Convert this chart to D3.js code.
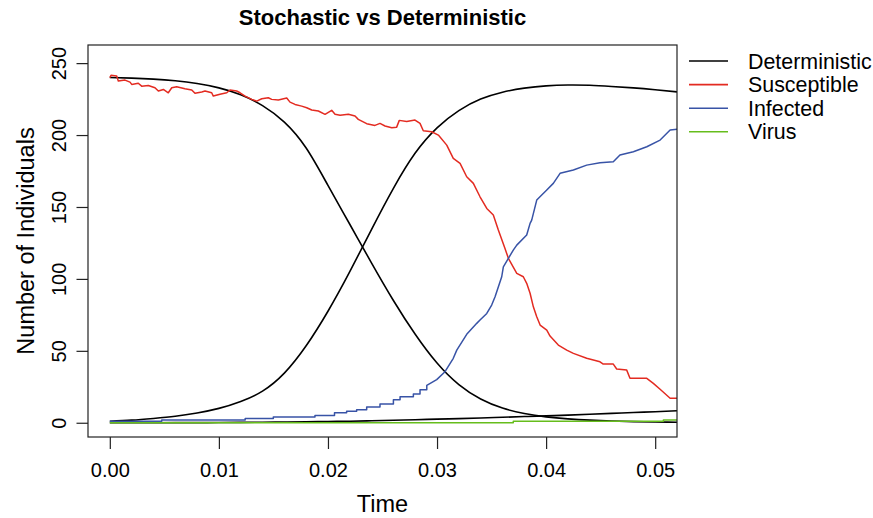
<!DOCTYPE html>
<html>
<head>
<meta charset="utf-8">
<script src="https://cdn.jsdelivr.net/npm/d3@7"></script>
<style>
  body { margin: 0; background: #fff; }
  text { font-family: "Liberation Sans", Arial, Helvetica, sans-serif; }
</style>
</head>
<body>
<div class="canvas"></div>
<script>
// deterministic solution, sampled every 0.002
const detTime = [0, 0.002, 0.004, 0.006, 0.008, 0.010, 0.012, 0.014, 0.016, 0.018, 0.020, 0.022, 0.024,
    0.026, 0.028, 0.030, 0.032, 0.034, 0.036, 0.038, 0.040, 0.042, 0.044, 0.046, 0.048, 0.050, 0.052];
const detS = [240, 239.6, 238.9, 237.7, 235.8, 232.8, 228, 220.5, 209, 191, 165, 138, 111,
    85, 61.5, 41.5, 26.5, 16.5, 10.2, 6.4, 4.1, 2.7, 1.8, 1.2, 0.8, 0.55, 0.4];
const detI = [1, 1.8, 3, 4.5, 6.8, 10, 14.8, 22, 34.5, 53.5, 77.5, 105, 134.5,
    163, 187.5, 205, 217, 225, 229.8, 232.6, 234.2, 234.8, 234.6, 233.8, 232.8, 231.5, 230];
const detV = [0, 0.02, 0.05, 0.08, 0.1, 0.15, 0.25, 0.35, 0.5, 0.7, 0.9, 1.1, 1.4,
    1.7, 2.1, 2.5, 2.9, 3.3, 3.8, 4.3, 4.8, 5.3, 5.9, 6.5, 7.1, 7.7, 8.4];

// stochastic run
const susTime = [0, 0.00011, 0.00063, 0.00078, 0.00139, 0.00185, 0.00201, 0.00261, 0.00292, 0.00353,
    0.00414, 0.00445, 0.00491, 0.00536, 0.00568, 0.00613, 0.00689, 0.00751, 0.00781, 0.00843,
    0.00873, 0.00934, 0.00949, 0.01010, 0.01072, 0.01102, 0.01163, 0.01194, 0.01240, 0.01301,
    0.01347, 0.01393, 0.01453, 0.01484, 0.01545, 0.01622, 0.01652, 0.01698, 0.01759, 0.01805,
    0.01851, 0.01912, 0.01973, 0.02034, 0.02065, 0.02111, 0.02187, 0.02248, 0.02278, 0.02355,
    0.02431, 0.02477, 0.02523, 0.02585, 0.02630, 0.02654, 0.02722, 0.02798, 0.02844, 0.02874,
    0.02951, 0.03012, 0.03089, 0.03149, 0.03211, 0.03272, 0.03333, 0.03394, 0.03456, 0.03516,
    0.03562, 0.03623, 0.03654, 0.03731, 0.03791, 0.03822, 0.03853, 0.03883, 0.03914, 0.03945,
    0.04006, 0.04036, 0.04112, 0.04189, 0.04250, 0.04372, 0.04494, 0.04524, 0.04616, 0.04647,
    0.04739, 0.04769, 0.04923, 0.04983, 0.05045, 0.05137, 0.05201];
const susValue = [240, 241.5, 241, 237.5, 238.2, 236.8, 235.2, 236, 234, 234.5,
    232.9, 230.6, 231.7, 229.4, 232.9, 233.6, 232.2, 231.3, 229, 229.9,
    230.6, 229.4, 227.1, 228.3, 229.4, 231.3, 230.6, 229.4, 227.1, 224.8,
    223.6, 225.2, 225.9, 224.8, 224.3, 225.7, 222.9, 221.3, 220.1, 219,
    217.4, 216.7, 214.4, 217.2, 214.4, 213.7, 214.4, 213.2, 210.9, 207.9,
    206.7, 208.1, 206.3, 205.1, 205.5, 210.2, 209.5, 210.4, 208.1, 203,
    202.3, 200, 193, 183.8, 180.3, 171, 166.4, 157.1, 149, 144.4,
    134, 121.2, 114.3, 103.9, 101.5, 96.9, 90, 80.6, 73.7, 67.9,
    64.4, 60.3, 54, 50.5, 48.2, 44.8, 42.4, 40.8, 40.8, 37.4,
    36.6, 30.9, 30.9, 27.4, 23.3, 17, 17];

const infTime = [0, 0.00476, 0.00476, 0.01241, 0.01241, 0.01499, 0.01499, 0.01881, 0.01881, 0.02060,
    0.02060, 0.02171, 0.02171, 0.02263, 0.02263, 0.02355, 0.02355, 0.02477, 0.02477, 0.02600,
    0.02600, 0.02661, 0.02661, 0.02783, 0.02783, 0.02844, 0.02844, 0.02906, 0.02906, 0.02997,
    0.03073, 0.03149, 0.03181, 0.03272, 0.03364, 0.03394, 0.03456, 0.03501, 0.03532, 0.03593,
    0.03608, 0.03654, 0.03699, 0.03731, 0.03822, 0.03853, 0.03868, 0.03914, 0.04006, 0.04066,
    0.04128, 0.04250, 0.04372, 0.04494, 0.04616, 0.04677, 0.04800, 0.04923, 0.05045, 0.05137, 0.05201];
const infValue = [1, 1, 2, 2, 3, 3, 4, 4, 5, 5,
    7, 7, 8, 8, 9, 9, 11, 11, 13, 13,
    16, 16, 18, 18, 20, 20, 23, 23, 26, 30,
    35.5, 44.8, 50.5, 61.5, 69.1, 71.4, 76, 81.8, 87.6, 101.5,
    108.4, 114.3, 120, 123.5, 130.5, 138.6, 140.9, 154.8, 161.8, 166.4,
    173.4, 175.7, 179.1, 180.7, 181.4, 186.1, 188.4, 191.9, 196.5, 203.5, 204];

const virTime = [0, 0.03699, 0.03699, 0.05075, 0.05075, 0.05201];
const virValue = [0, 0, 1, 1, 2, 2];

const xTicks = [0, 0.01, 0.02, 0.03, 0.04, 0.05];
const yTicks = [0, 50, 100, 150, 200, 250];
const legendLabels = ['Deterministic', 'Susceptible', 'Infected', 'Virus'];
const legendColors = ['#000000', '#e32b21', '#3853a6', '#66bd1c'];

const svg = d3.select('.canvas')
    .append('svg')
    .attr('width', 873)
    .attr('height', 518);

// plot region
const margin = { top: 45, right: 196, bottom: 81, left: 88 };
const graphWidth = 873 - margin.left - margin.right;
const graphHeight = 518 - margin.top - margin.bottom;

const x = d3.scaleLinear()
    .domain([-0.002, 0.052])
    .range([margin.left, margin.left + graphWidth]);

const y = d3.scaleLinear()
    .domain([-9.9, 262.6])
    .range([margin.top + graphHeight, margin.top]);

svg.append('clipPath')
    .attr('id', 'plot-clip')
    .append('rect')
    .attr('x', margin.left)
    .attr('y', margin.top)
    .attr('width', graphWidth)
    .attr('height', graphHeight);

const plot = svg.append('g').attr('clip-path', 'url(#plot-clip)');

const smooth = d3.line()
    .x(d => x(d[0]))
    .y(d => y(d[1]))
    .curve(d3.curveNatural);

const jagged = d3.line()
    .x(d => x(d[0]))
    .y(d => y(d[1]));

// deterministic curves
[detS, detI, detV].forEach(vals => {
    plot.append('path')
        .datum(detTime.map((t, i) => [t, vals[i]]))
        .attr('d', smooth)
        .attr('fill', 'none')
        .attr('stroke', legendColors[0])
        .attr('stroke-width', 1.6);
});

// stochastic run
const stoch = [
    [susTime, susValue, legendColors[1]],
    [infTime, infValue, legendColors[2]],
    [virTime, virValue, legendColors[3]]
];
stoch.forEach(([ts, vs, col]) => {
    plot.append('path')
        .datum(ts.map((t, i) => [t, vs[i]]))
        .attr('d', jagged)
        .attr('fill', 'none')
        .attr('stroke', col)
        .attr('stroke-width', 1.5)
        .attr('stroke-linejoin', 'round');
});

// box
svg.append('rect')
    .attr('x', margin.left)
    .attr('y', margin.top)
    .attr('width', graphWidth)
    .attr('height', graphHeight)
    .attr('fill', 'none')
    .attr('stroke', '#222')
    .attr('stroke-width', 1.2);

// axes
const xAxis = d3.axisBottom(x)
    .tickValues(xTicks)
    .tickSize(12)
    .tickPadding(14)
    .tickFormat(d3.format('.2f'));
const yAxis = d3.axisLeft(y)
    .tickValues(yTicks)
    .tickSize(11.5)
    .tickPadding(8);

const xAxisGroup = svg.append('g')
    .attr('transform', `translate(0, ${margin.top + graphHeight})`)
    .call(xAxis);
const yAxisGroup = svg.append('g')
    .attr('transform', `translate(${margin.left}, 0)`)
    .call(yAxis);

[xAxisGroup, yAxisGroup].forEach(g => {
    g.select('.domain').remove();
    g.selectAll('line').attr('stroke', '#222').attr('stroke-width', 1.2);
    g.selectAll('text')
        .attr('font-size', 20)
        .attr('fill', '#000')
        .style('font-family', '"Liberation Sans", Arial, sans-serif');
});

yAxisGroup.selectAll('.tick text')
    .attr('x', null)
    .attr('dy', null)
    .attr('text-anchor', 'middle')
    .attr('transform', 'translate(-22, 0) rotate(-90)');

// titles
svg.append('text')
    .attr('x', margin.left + graphWidth / 2)
    .attr('y', 25)
    .attr('text-anchor', 'middle')
    .attr('font-size', 22)
    .attr('font-weight', 'bold')
    .text('Stochastic vs Deterministic');

svg.append('text')
    .attr('x', margin.left + graphWidth / 2)
    .attr('y', 512)
    .attr('text-anchor', 'middle')
    .attr('font-size', 23.5)
    .text('Time');

svg.append('text')
    .attr('transform', `translate(34, ${margin.top + graphHeight / 2}) rotate(-90)`)
    .attr('text-anchor', 'middle')
    .attr('font-size', 23.5)
    .text('Number of Individuals');

// legend
const legend = svg.append('g');
legendLabels.forEach((lab, i) => {
    const ly = 61 + i * 23.6;
    legend.append('line')
        .attr('x1', 689).attr('x2', 728)
        .attr('y1', ly).attr('y2', ly)
        .attr('stroke', legendColors[i])
        .attr('stroke-width', 1.6);
    legend.append('text')
        .attr('x', 748)
        .attr('y', ly + 7.5)
        .attr('font-size', 21.4)
        .text(lab);
});
</script>
</body>
</html>
